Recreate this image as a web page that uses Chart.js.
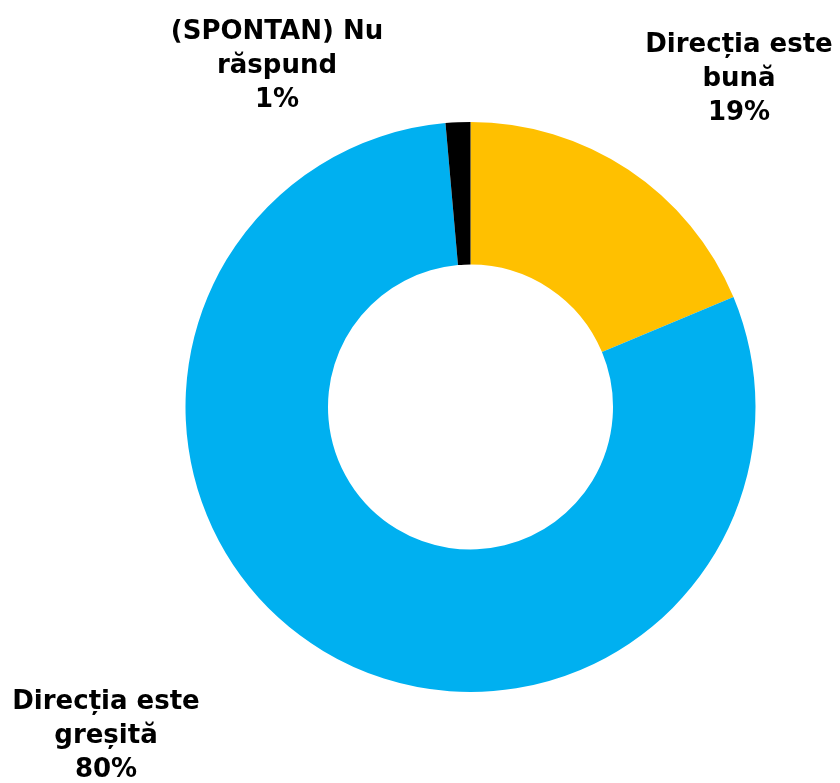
<!DOCTYPE html>
<html>
<head>
<meta charset="utf-8">
<script src="https://cdn.jsdelivr.net/npm/chart.js@4"></script>
<style>
  html, body { margin: 0; padding: 0; background: #fff; }
  #wrap { width: 840px; height: 783px; position: relative; }
</style>
</head>
<body>
<div id="wrap"><canvas id="donut"></canvas></div>
<script>
// Data
const categories = ['Direcția este bună', 'Direcția este greșită', '(SPONTAN) Nu răspund'];
const values = [18.7, 79.9, 1.4];
const percentLabels = ['19%', '80%', '1%'];
const labelLines = [
    ['Direcția este', 'bună'],
    ['Direcția este', 'greșită'],
    ['(SPONTAN) Nu', 'răspund']
];
const colors = ['#FFC000', '#00B0F0', '#000000'];

// Where each label block sits (center x, first line y)
const labelAnchors = [
    { x: 739, y: 45 },
    { x: 106, y: 702 },
    { x: 277, y: 32 }
];

// Plugin to draw the outside labels
const outsideLabels = {
    id: 'outsideLabels',
    afterDraw(chart) {
        const ctx = chart.ctx;
        ctx.save();
        ctx.fillStyle = '#000';
        ctx.font = 'bold 26px "DejaVu Sans", sans-serif';
        ctx.textAlign = 'center';
        ctx.textBaseline = 'middle';
        const lineHeight = 34;
        labelAnchors.forEach((a, i) => {
            const lines = labelLines[i].concat([percentLabels[i]]);
            lines.forEach((t, j) => {
                ctx.fillText(t, a.x, a.y + j * lineHeight);
            });
        });
        ctx.restore();
    }
};

const ctx = document.getElementById('donut').getContext('2d');
new Chart(ctx, {
    type: 'doughnut',
    data: {
        labels: categories,
        datasets: [{
            data: values,
            backgroundColor: colors,
            borderWidth: 0
        }]
    },
    options: {
        responsive: true,
        maintainAspectRatio: false,
        animation: false,
        cutout: '50%',
        layout: {
            padding: { left: 185, right: 84, top: 122, bottom: 91 }
        },
        plugins: {
            legend: { display: false },
            tooltip: { enabled: false }
        }
    },
    plugins: [outsideLabels]
});
</script>
</body>
</html>
